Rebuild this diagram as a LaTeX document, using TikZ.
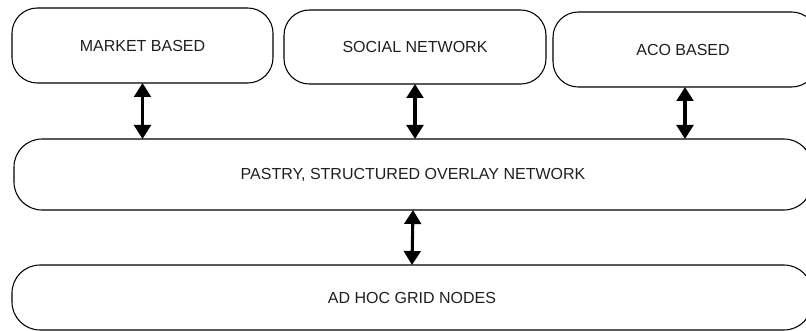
\documentclass[tikz,border=0pt]{standalone}
\usepackage{fontspec}
\setmainfont{Liberation Sans}
\usetikzlibrary{arrows.meta}
\begin{document}
\begin{tikzpicture}[x=0.75pt,y=-0.75pt,
  layer/.style={draw=black,line width=0.8pt,rounded corners=19pt,
    inner sep=0pt,outer sep=0pt,font=\fontsize{12}{14}\selectfont,text=black!88},
  link/.style={line width=2.3pt,{Triangle[width=12.5pt,length=10.5pt]}-{Triangle[width=12.5pt,length=10.5pt]}}]
  \useasboundingbox (0,0) rectangle (806,331);
  \clip (0,0) rectangle (806,331);
  % service layers
  \node[layer,minimum width=261*0.75pt,minimum height=75*0.75pt] (market) at (142.5,45.5) {MARKET BASED};
  \node[layer,minimum width=262*0.75pt,minimum height=74*0.75pt] (social) at (415,47) {SOCIAL NETWORK};
  \node[layer,minimum width=264*0.75pt,minimum height=75*0.75pt] (aco) at (685,49.5) {};
  \node at (683,49.5) [font=\fontsize{12}{14}\selectfont,text=black!88] (acolabel) {ACO BASED};
  % overlay and grid layers
  \node[layer,rounded corners=21pt,minimum width=798*0.75pt,minimum height=71*0.75pt] (pastry) at (413,174.5) {PASTRY, STRUCTURED OVERLAY NETWORK};
  \node[layer,rounded corners=21pt,minimum width=800*0.75pt,minimum height=65*0.75pt] (grid) at (412,297.5) {AD HOC GRID NODES};
  % links between layers
  \draw[link] (market.south) -- (market.south |- pastry.north);
  \draw[link] (social.south) -- (social.south |- pastry.north);
  \draw[link] (aco.south) -- (aco.south |- pastry.north);
  \draw[link] (pastry.south) -- (grid.north);
\end{tikzpicture}
\end{document}
